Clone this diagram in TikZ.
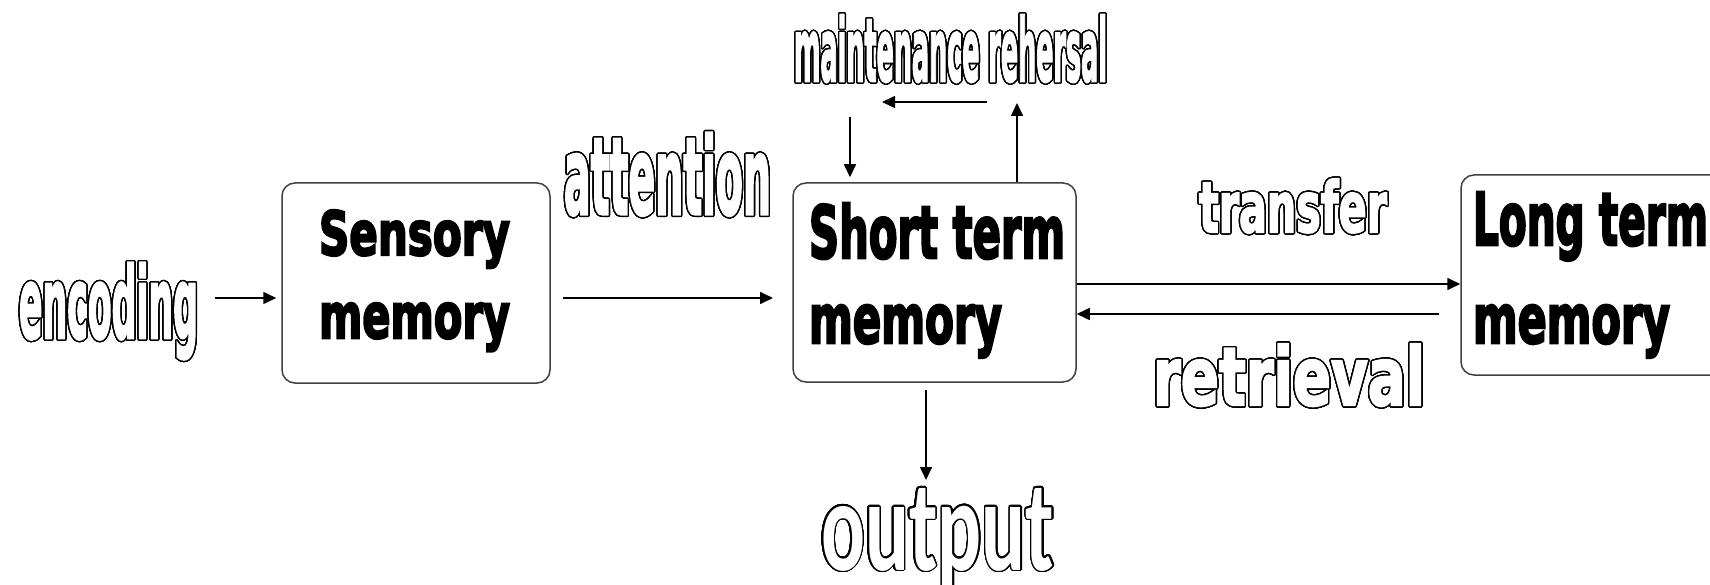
\documentclass[tikz,border=0pt]{standalone}
\usepackage{fontspec}
\setmainfont{DejaVu Sans}
\newfontfamily\boxfont{DejaVu Sans}[BoldFeatures={FakeBold=4}]
\newfontfamily\olfont{DejaVu Sans}[BoldFeatures={FakeBold=3}]
\newfontfamily\calfont{Carlito}
\usepackage{graphicx}
\usepackage{contour}
\contourlength{1.4pt}
\contournumber{32}
\usetikzlibrary{arrows.meta}
\newcommand{\olab}[3]{{\color{white}\contour{black}{\resizebox{#1}{#2}{#3}}}}
\newcommand{\blab}[3]{\resizebox{#1}{#2}{#3}}
\tikzset{
  mbox/.style={draw=black!75, line width=1.5pt, rounded corners=13pt},
  arr/.style={line width=1.6pt, -{Triangle[length=13pt,width=12pt]}},
  lab/.style={anchor=base west, inner sep=0pt, outer sep=0pt, font=\boxfont\bfseries},
  olab/.style={anchor=base west, inner sep=0pt, outer sep=0pt, font=\olfont\bfseries},
}
\begin{document}
\begin{tikzpicture}[x=1pt,y=-1pt]
\fill[white] (0,0) rectangle (1710,585);
\useasboundingbox (0,0) rectangle (1710,585);

% boxes
\node[mbox, minimum width=268pt, minimum height=200pt] (sens) at (416,283) {};
\node[mbox, minimum width=283pt, minimum height=199pt] (stm) at (934.5,282.5) {};
\node[mbox, minimum width=269pt, minimum height=200pt] (ltm) at (1595.5,275) {};

% box texts
\node[lab] (sens1) at (319,255) {\blab{191pt}{45pt}{Sensory}};
\node[lab] (sens2) at (319,338) {\blab{191pt}{35pt}{memory}};
\node[lab] (stm1) at (809,258) {\blab{256pt}{55pt}{Short term}};
\node[lab] (stm2) at (809,343) {\blab{193pt}{38pt}{memory}};
\node[lab] (ltm1) at (1473,245) {\blab{235pt}{53pt}{Long term}};
\node[lab] (ltm2) at (1473,343) {\blab{197pt}{38pt}{memory}};

% outlined labels
\node[olab] (enc) at (19,338) {\olab{179pt}{75pt}{encoding}};
\node[olab] (att) at (564,214) {\olab{207pt}{81pt}{attention}};
\node[olab] (mr) at (794,81) {\olab{313pt}{66pt}{maintenance rehersal}};
\node[olab] (tr) at (1199,232) {\olab{188pt}{53pt}{transfer}};
\node[olab] (ret) at (1153,405) {\olab{272pt}{61pt}{retrieval}};
\node[olab, font=\calfont\bfseries] (out) at (821,570) {\olab{233pt}{82pt}{output}};

% connector end points
\coordinate (e1) at (215,298);
\coordinate (a1) at (563,298);
\coordinate (a2) at (773,298);
\coordinate (m1) at (850,117);
\coordinate (m2) at (1017,103);
\coordinate (m3) at (987,102);
\coordinate (m4) at (882,102);
\coordinate (o1) at (926,390);
\coordinate (o2) at (926,480);

% connectors
\draw[arr, shorten >=5pt] (e1) -- (e1 -| sens.west);
\draw[arr] (a1) -- (a2);
\draw[arr] (stm.east |- 0,284) -- (ltm.west |- 0,284);
\draw[arr, shorten <=21pt] (ltm.west |- 0,314) -- (stm.east |- 0,314);
\draw[arr, shorten >=5pt] (m1) -- (m1 |- stm.north);
\draw[arr] (m2 |- stm.north) -- (m2);
\draw[arr] (m3) -- (m4);
\draw[arr] (o1) -- (o2);
\end{tikzpicture}
\end{document}
